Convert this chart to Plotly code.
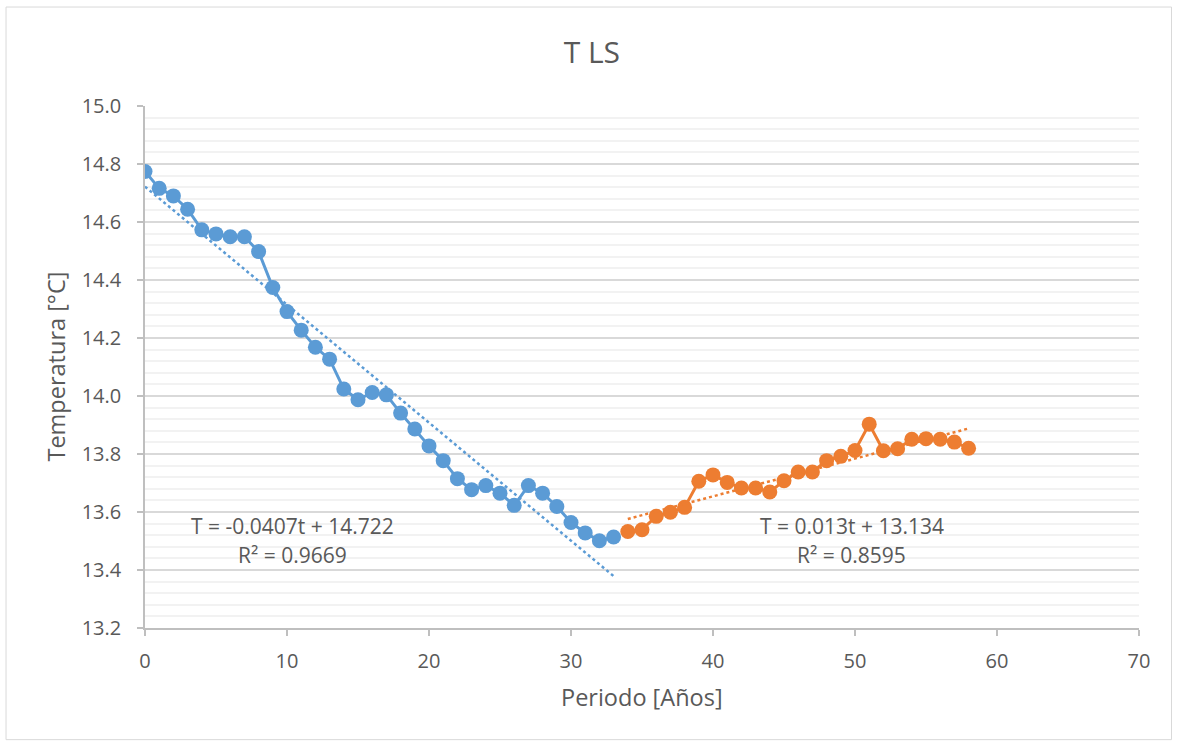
import plotly.graph_objects as go

# Annual mean temperature, split into the cooling and warming periods
t_cooling = list(range(0, 34))
temp_cooling = [
    14.774, 14.716, 14.690, 14.644, 14.573, 14.559, 14.549, 14.549, 14.498, 14.374,
    14.291, 14.227, 14.168, 14.127, 14.024, 13.987, 14.012, 14.004, 13.941, 13.886,
    13.828, 13.777, 13.715, 13.677, 13.691, 13.665, 13.623, 13.691, 13.665, 13.619,
    13.564, 13.528, 13.501, 13.514,
]

t_warming = list(range(34, 59))
temp_warming = [
    13.533, 13.539, 13.585, 13.599, 13.616, 13.706, 13.728, 13.702, 13.683, 13.683,
    13.669, 13.708, 13.738, 13.738, 13.777, 13.792, 13.812, 13.903, 13.811, 13.818,
    13.851, 13.853, 13.851, 13.841, 13.820,
]

# Linear fits (slope, intercept, R^2)
fit_cooling = (-0.0407, 14.722, 0.9669)
fit_warming = (0.013, 13.134, 0.8595)

BLUE = "#5B9BD5"
ORANGE = "#ED7D31"
TEXT = "#595959"
FONT = "Open Sans"


def fit_line(t_values, fit):
    slope, intercept, _ = fit
    ends = [t_values[0], t_values[-1]]
    return ends, [slope * t + intercept for t in ends]


fig = go.Figure()

fig.add_trace(go.Scatter(
    x=t_cooling, y=temp_cooling, mode="lines+markers",
    line=dict(color=BLUE, width=3), marker=dict(color=BLUE, size=15),
    showlegend=False,
))
fig.add_trace(go.Scatter(
    x=t_warming, y=temp_warming, mode="lines+markers",
    line=dict(color=ORANGE, width=3), marker=dict(color=ORANGE, size=15),
    showlegend=False,
))

for t_vals, fit, color in ((t_cooling, fit_cooling, BLUE), (t_warming, fit_warming, ORANGE)):
    fx, fy = fit_line(t_vals, fit)
    fig.add_trace(go.Scatter(
        x=fx, y=fy, mode="lines",
        line=dict(color=color, width=2.5, dash="dot"),
        showlegend=False, hoverinfo="skip",
    ))


def equation(fit):
    slope, intercept, _ = fit
    return f"T = {slope:g}t + {intercept:g}"


def r2_text(fit):
    return f"R² = {fit[2]:g}"


eq_font = dict(family=FONT, size=21, color=TEXT)
for fit, xc in ((fit_cooling, 10.42), (fit_warming, 49.76)):
    fig.add_annotation(x=xc, y=13.553, xref="x", yref="y", text=equation(fit),
                       showarrow=False, font=eq_font, xanchor="center", yanchor="middle")
    fig.add_annotation(x=xc, y=13.453, xref="x", yref="y", text=r2_text(fit),
                       showarrow=False, font=eq_font, xanchor="center", yanchor="middle")

# Axis titles
fig.add_annotation(x=0.5, y=-0.132, xref="paper", yref="paper", text="Periodo [Años]",
                   showarrow=False, font=dict(family=FONT, size=23.5, color=TEXT),
                   xanchor="center", yanchor="middle")
fig.add_annotation(x=-0.09, y=0.5, xref="paper", yref="paper", text="Temperatura [°C]",
                   showarrow=False, textangle=-90, font=dict(family=FONT, size=23.5, color=TEXT),
                   xanchor="center", yanchor="middle")

# Chart area border
fig.add_shape(type="rect", xref="paper", yref="paper",
              x0=-0.1398, x1=1.0327, y0=-0.2139, y1=1.1896,
              line=dict(color="#D9D9D9", width=1), fillcolor="rgba(0,0,0,0)", layer="below")

fig.update_layout(
    width=1179, height=746,
    margin=dict(l=145, r=39.5, t=106, b=117.7, autoexpand=False),
    paper_bgcolor="white", plot_bgcolor="white",
    font=dict(family=FONT, color=TEXT),
    title=dict(text="T LS", x=0.502, xanchor="center", y=0.930, yanchor="middle",
               font=dict(family=FONT, size=30, color=TEXT)),
)

fig.update_xaxes(
    range=[0, 70], dtick=10, tick0=0, showgrid=False, zeroline=False,
    showline=True, linecolor="#BFBFBF", linewidth=1.5,
    ticks="outside", ticklen=6, tickcolor="#BFBFBF", tickwidth=1.5,
    tickfont=dict(family=FONT, size=20, color=TEXT), ticklabelstandoff=8,
)
fig.update_yaxes(
    range=[13.2, 15.0], dtick=0.2, tick0=13.2, tickformat=".1f",
    showgrid=True, gridcolor="#D9D9D9", gridwidth=1.5, zeroline=False,
    showline=True, linecolor="#BFBFBF", linewidth=1.5,
    ticks="outside", ticklen=6, tickcolor="#BFBFBF", tickwidth=1.5,
    tickfont=dict(family=FONT, size=20, color=TEXT), ticklabelstandoff=12,
    minor=dict(dtick=0.04, tick0=13.2, showgrid=True, gridcolor="#F2F2F2", gridwidth=1.5),
)

fig.write_html("out.html")
